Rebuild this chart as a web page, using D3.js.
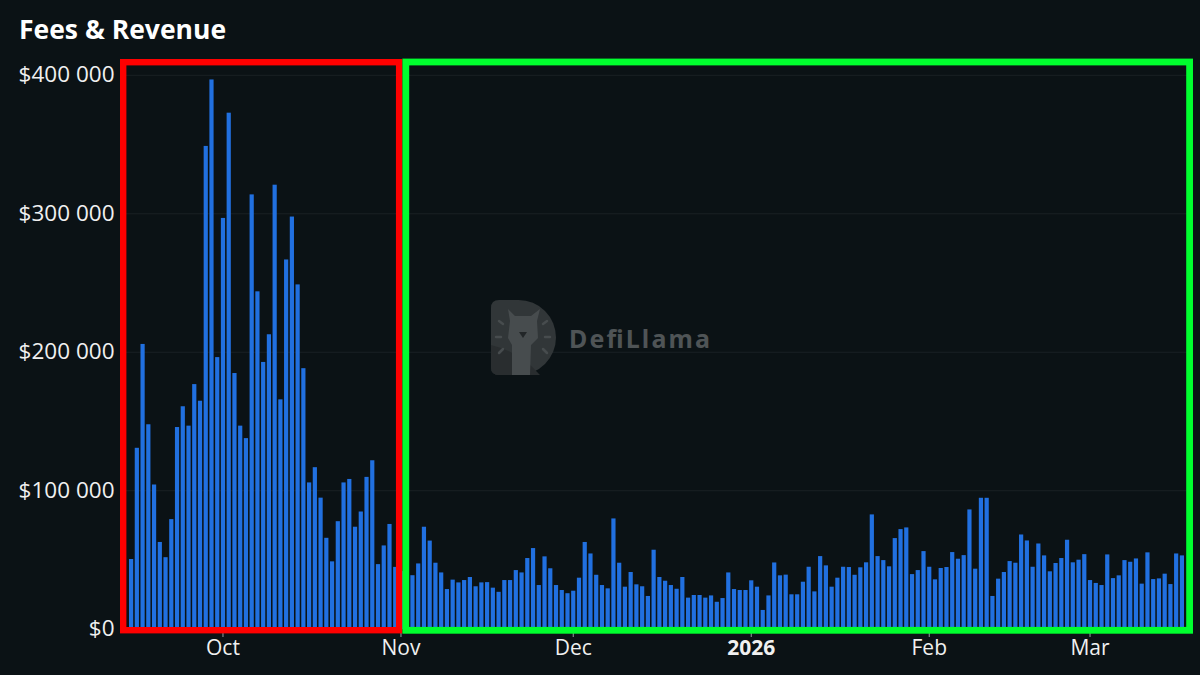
<!DOCTYPE html>
<html><head><meta charset="utf-8">
<script src="https://cdn.jsdelivr.net/npm/d3@7"></script>
<style>html,body{margin:0;padding:0;background:#0b1215;}svg{display:block}</style>
</head><body><svg id="chart" width="1200" height="675"></svg>
<script>
// ---------- DATA ----------
const chartTitle = "Fees & Revenue";
const startDate = "2025-09-15"; // first daily bar
// Daily fees, Sep 15 – Oct 31 2025 (red highlighted period)
const feesPeriodA = [50700,131000,206000,148000,104500,63000,52000,79500,146000,161000,
  147000,177000,165000,349000,397000,196500,297000,373000,185000,147000,
  138000,314000,244000,193000,213000,321000,166000,267000,298000,249000,
  188500,106000,117000,95000,66000,49000,78000,106000,108500,74000,
  85000,110000,122000,47000,60500,76000,45000];
// Daily fees, Nov 1 2025 – Mar 17 2026 (green highlighted period)
const feesPeriodB = [42000,38000,
  39000,47500,74000,64000,48000,41000,29000,35800,33800,35500,
  37700,31000,33800,34000,30000,27000,35500,35500,42700,41000,
  51400,58600,31900,52600,44000,31900,28300,26000,27800,37200,
  63000,54700,39300,31900,29500,80000,48000,30700,41300,32400,
  31000,24000,57400,37700,35000,31900,29200,37700,22800,24700,
  24700,22800,24400,19800,22500,41000,29000,28300,28300,35300,
  30700,13900,24400,48200,38900,39400,25200,25200,
  34300,45100,27300,52800,46100,30700,37200,45100,44900,39300,
  44700,48300,82900,52800,49900,45400,65800,72300,73500,39800,
  42700,56400,45100,36000,44200,44900,55700,50900,53500,86500,
  43700,94900,94900,24000,36500,41300,49200,48000,68400,64100,
  45100,61900,53300,41800,47800,51400,64600,48300,50200,54200,
  35500,33400,31900,54000,36900,38900,49900,48700,51100,32900,
  55500,36200,36700,40100,32600,54700,53300];
const yTickValues = [0,100000,200000,300000,400000];
const xTickDates = ["2025-10-01","2025-11-01","2025-12-01","2026-01-01","2026-02-01","2026-03-01"];
const xTickLabels = ["Oct","Nov","Dec","2026","Feb","Mar"];
const periodA = ["2025-09-15","2025-10-31"];
const periodB = ["2025-11-01","2026-03-17"];

// ---------- BUILD ----------
const fees = feesPeriodA.concat(feesPeriodB);
const t0 = new Date(startDate + "T00:00:00Z");
const data = fees.map((v,i)=>({date:d3.utcDay.offset(t0,i), value:v}));
const lastDate = data[data.length-1].date;

const svg = d3.select("#chart");
const W = 1200, H = 675;
const font = "'Open Sans','Noto Sans',sans-serif";

svg.append("rect").attr("width",W).attr("height",H).attr("fill","#0b1215");

const x = d3.scaleUtc().domain([t0,lastDate]).range([131.1,1181.9]);
const y = d3.scaleLinear().domain([0,400000]).range([629.2,75.3]);

// gridlines
svg.append("g").selectAll("line").data(yTickValues.filter(v=>v>0)).join("line")
  .attr("x1",120).attr("x2",1192)
  .attr("y1",d=>y(d)).attr("y2",d=>y(d))
  .attr("stroke","#1a2124").attr("stroke-width",1);

// y labels
const fmt = v => "$" + d3.format(",")(v).replace(/,/g," ");
svg.append("g").selectAll("text").data(yTickValues).join("text")
  .attr("x",114.5).attr("y",d=>y(d)+7)
  .attr("text-anchor","end")
  .attr("fill","#f0f0f0").attr("font-family",font).attr("font-size",22.5)
  .text(fmt);

// watermark
const wm = svg.append("g");
wm.append("path")
  .attr("d","M499,300 L518.5,300 A37.5,37.5 0 0 1 518.5,375 L499,375 Q491,375 491,367 L491,308 Q491,300 499,300 Z")
  .attr("fill","#313638");
wm.append("path")
  .attr("d","M491,345 Q520,352 540,375 L499,375 Q491,375 491,367 Z")
  .attr("fill","#292d2f");
// llama
wm.append("path")
  .attr("d","M508,309 L515,316 L531,316 L540,309 L537,321 L538,338 L531,345 L530,375 L512,375 L512,345 L508,338 L510,321 Z")
  .attr("fill","#474c4e");
wm.append("path").attr("d","M519,332 L527,332 L523,338 Z").attr("fill","#222628");
const rays = [[499,321,503,324],[496,337,501,337],[499,353,503,349],[547,321,543,324],[550,337,545,337],[547,353,543,349]];
wm.append("g").selectAll("line").data(rays).join("line")
  .attr("x1",d=>d[0]).attr("y1",d=>d[1]).attr("x2",d=>d[2]).attr("y2",d=>d[3])
  .attr("stroke","#474c4e").attr("stroke-width",2.5).attr("stroke-linecap","round");
wm.append("text").attr("x",569).attr("y",348)
  .attr("fill","#4f5456").attr("font-family","'Noto Sans',sans-serif").attr("font-weight",700)
  .attr("font-size",25).attr("textLength",141).text("DefiLlama");

// bars
const bw = 4.2;
svg.append("g").selectAll("rect").data(data).join("rect")
  .attr("x",d=>x(d.date)-bw/2).attr("width",bw)
  .attr("y",d=>y(d.value)).attr("height",d=>y(0)-y(d.value))
  .attr("fill","#2170e0");

// x ticks & labels
const xt = xTickDates.map((d,i)=>({date:new Date(d+"T00:00:00Z"), label:xTickLabels[i]}));
svg.append("g").selectAll("line").data(xt).join("line")
  .attr("x1",d=>x(d.date)).attr("x2",d=>x(d.date)).attr("y1",633).attr("y2",637)
  .attr("stroke","#9aa0a3").attr("stroke-width",1);
svg.append("g").selectAll("text").data(xt).join("text")
  .attr("x",d=>x(d.date)).attr("y",655).attr("text-anchor","middle")
  .attr("fill","#f0f0f0").attr("font-family",font).attr("font-size",21)
  .attr("font-weight",d=>/^\d+$/.test(d.label)?700:400)
  .text(d=>d.label);

// highlight boxes
const xa1 = x(new Date(periodA[1]+"T00:00:00Z"));
const xb1 = x(new Date(periodB[1]+"T00:00:00Z"));
svg.append("rect").attr("x",123.2).attr("y",62.2).attr("width",(xa1+7)-123.2-3.1).attr("height",568)
  .attr("fill","none").attr("stroke","#ff0000").attr("stroke-width",6.4);
svg.append("rect").attr("x",405.8).attr("y",62).attr("width",(xb1+11)-405.8-3.3).attr("height",568.3)
  .attr("fill","none").attr("stroke","#00ff2e").attr("stroke-width",6.8);

// title
svg.append("text").attr("x",19).attr("y",39)
  .attr("fill","#ffffff").attr("font-family",font).attr("font-weight",700).attr("font-size",26.5)
  .text(chartTitle);
</script></body></html>
